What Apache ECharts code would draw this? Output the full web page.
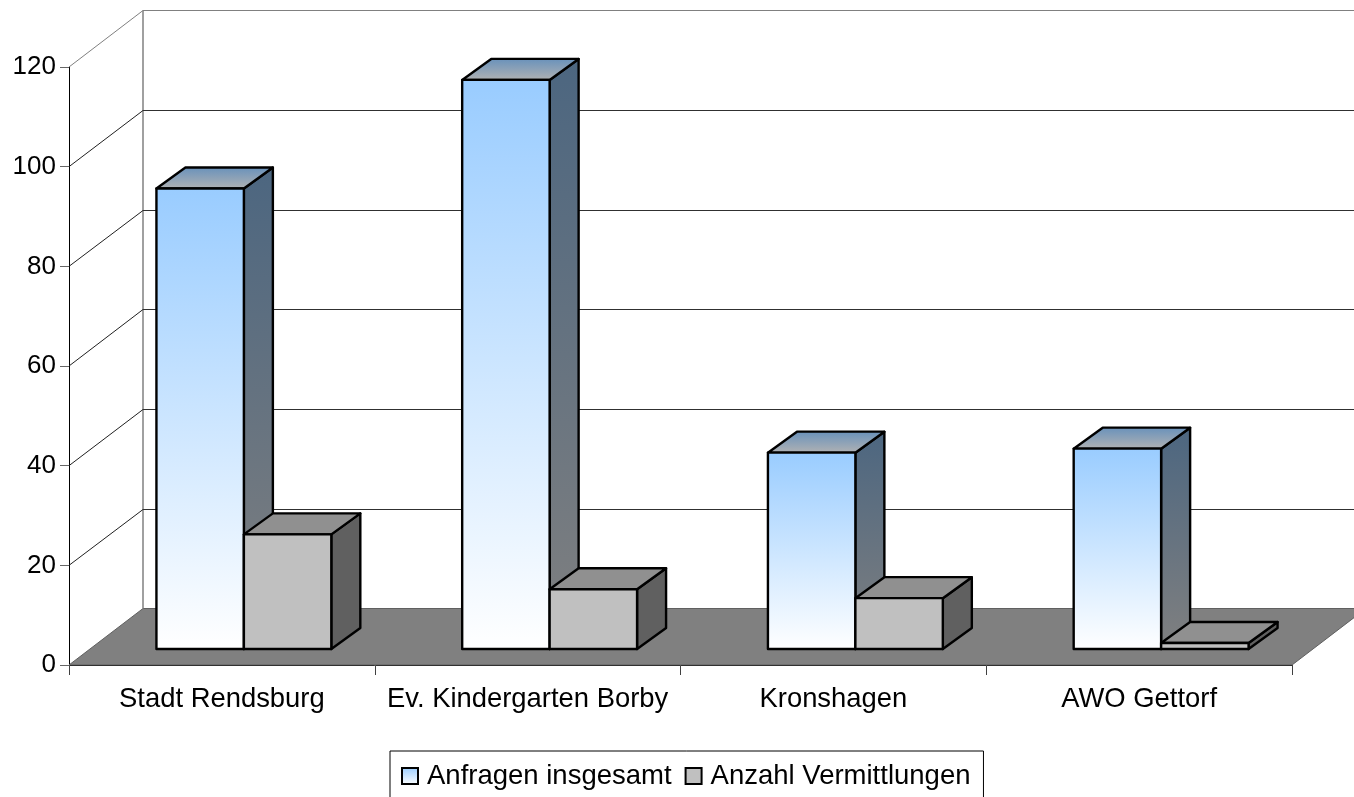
<!DOCTYPE html>
<html>
<head>
<meta charset="utf-8">
<title>Anfragen</title>
<style>
html,body{margin:0;padding:0;background:#fff;overflow:hidden;}
#main{width:1354px;height:797px;}
</style>
<script src="https://cdn.jsdelivr.net/npm/echarts@6/dist/echarts.min.js"></script>
</head>
<body>
<div id="main"></div>
<script>
var categories = ['Stadt Rendsburg', 'Ev. Kindergarten Borby', 'Kronshagen', 'AWO Gettorf'];
var anfragen = [92.4, 114.2, 39.4, 40.2];
var vermittlungen = [23, 12, 10.2, 1.2];
var yTicks = [0, 20, 40, 60, 80, 100, 120];

var font = '"Liberation Sans", Arial, sans-serif';
var wallDx = 74, wallDy = -56.7; // Tiefe der Rueckwand
var barDx = 29, barDy = -21;     // Tiefe der Balken
var shiftX = 22, shiftY = -16;   // Balken stehen mitten auf dem Boden
var barRatio = 0.286;

function vGrad(c1, c2) {
	return new echarts.graphic.LinearGradient(0, 0, 0, 1, [
		{offset: 0, color: c1},
		{offset: 1, color: c2}
	]);
}

// Rueckwand, Seitenwand, Boden
function renderWall(params, api) {
	var v = api.value(0);
	var p = api.coord([0, v]);
	var band = api.size([1, 0])[0];
	var x0 = p[0] - band / 2;
	var y0 = p[1];
	var x1 = x0 + band * 4;
	var children = [];
	var isTop = v === yTicks[yTicks.length - 1];
	var yBack = Math.round(y0 + wallDy) + 0.5;
	if (v === 0) {
		children.push({
			type: 'polygon',
			shape: {points: [[x0, y0], [x1, y0], [x1 + wallDx, yBack], [x0 + wallDx, yBack]]},
			style: {fill: '#808080', stroke: '#606060', lineWidth: 1}
		});
		var top = api.coord([0, yTicks[yTicks.length - 1]])[1];
		children.push({
			type: 'line',
			shape: {x1: x0 + wallDx, y1: yBack, x2: x0 + wallDx, y2: Math.round(top + wallDy) + 0.5},
			style: {stroke: '#808080', lineWidth: 1.5}
		});
	} else {
		children.push({
			type: 'line',
			shape: {x1: x0, y1: y0, x2: x0 + wallDx, y2: yBack},
			style: {stroke: isTop ? '#808080' : '#202020', lineWidth: 1}
		});
		children.push({
			type: 'line',
			shape: {x1: x0 + wallDx, y1: yBack, x2: x1 + wallDx, y2: yBack},
			style: {stroke: isTop ? '#808080' : '#303030', lineWidth: 1}
		});
	}
	return {type: 'group', children: children};
}

function makeBar(index, front, side, topFace) {
	return function (params, api) {
		var cat = api.value(0);
		var p = api.coord([cat, api.value(1)]);
		var base = api.coord([cat, 0]);
		var band = api.size([1, 0])[0];
		var w = band * barRatio;
		var xl = p[0] + shiftX + (index - 1) * w;
		var xr = xl + w;
		var yt = p[1] + shiftY;
		var yb = base[1] + shiftY;
		var st = {stroke: '#000', lineWidth: 2.4, lineJoin: 'round'};
		return {
			type: 'group',
			children: [{
				type: 'polygon',
				shape: {points: [[xr, yt], [xr + barDx, yt + barDy], [xr + barDx, yb + barDy], [xr, yb]]},
				style: echarts.util.extend({fill: side}, st)
			}, {
				type: 'polygon',
				shape: {points: [[xl, yt], [xr, yt], [xr + barDx, yt + barDy], [xl + barDx, yt + barDy]]},
				style: echarts.util.extend({fill: topFace}, st)
			}, {
				type: 'rect',
				shape: {x: xl, y: yt, width: w, height: yb - yt},
				style: echarts.util.extend({fill: front}, st)
			}]
		};
	};
}

var blueFront = vGrad('#99ccff', '#ffffff');
var blueSide = vGrad('#4c6680', '#808080');
var blueTop = vGrad('#6690bb', '#b3b3b3');

var chart = echarts.init(document.getElementById('main'), null, {renderer: 'canvas'});
chart.setOption({
	animation: false,
	backgroundColor: '#fff',
	grid: {left: 69, right: 62, top: 67, bottom: 132, containLabel: false},
	legend: {
		left: 390,
		top: 751,
		padding: [11, 13, 30, 11],
		borderColor: '#000',
		borderWidth: 1,
		itemWidth: 16,
		itemHeight: 16,
		itemGap: 13,
		textStyle: {fontFamily: font, fontSize: 27.5, color: '#000', padding: [0, 0, 0, 4]},
		data: [
			{name: 'Anfragen insgesamt', icon: 'rect', itemStyle: {color: vGrad('#99ccff', '#ffffff'), borderColor: '#000', borderWidth: 2}},
			{name: 'Anzahl Vermittlungen', icon: 'rect', itemStyle: {color: '#c0c0c0', borderColor: '#000', borderWidth: 2}}
		]
	},
	xAxis: {
		type: 'category',
		data: categories,
		axisLine: {lineStyle: {color: '#000', width: 1}},
		axisTick: {show: true, length: 10, lineStyle: {color: '#404040'}},
		axisLabel: {fontFamily: font, fontSize: 27.4, color: '#000', margin: 21, interval: 0},
		splitLine: {show: false}
	},
	yAxis: {
		type: 'value',
		min: 0,
		max: 120,
		interval: 20,
		axisLine: {show: true, lineStyle: {color: '#000', width: 1}},
		axisTick: {show: true, length: 9, lineStyle: {color: '#666'}},
		axisLabel: {fontFamily: font, fontSize: 26, color: '#000', margin: 13},
		splitLine: {show: false}
	},
	series: [{
		type: 'custom',
		name: 'wand',
		silent: true,
		z: 1,
		renderItem: renderWall,
		encode: {y: 0},
		data: yTicks.map(function (t) { return [t]; })
	}, {
		type: 'custom',
		name: 'Anfragen insgesamt',
		z: 2,
		renderItem: makeBar(0, blueFront, blueSide, blueTop),
		itemStyle: {color: '#99ccff'},
		encode: {x: 0, y: 1},
		data: anfragen.map(function (v, i) { return [i, v]; })
	}, {
		type: 'custom',
		name: 'Anzahl Vermittlungen',
		z: 3,
		renderItem: makeBar(1, '#c0c0c0', '#606060', '#909090'),
		itemStyle: {color: '#c0c0c0'},
		encode: {x: 0, y: 1},
		data: vermittlungen.map(function (v, i) { return [i, v]; })
	}]
});
</script>
</body>
</html>
